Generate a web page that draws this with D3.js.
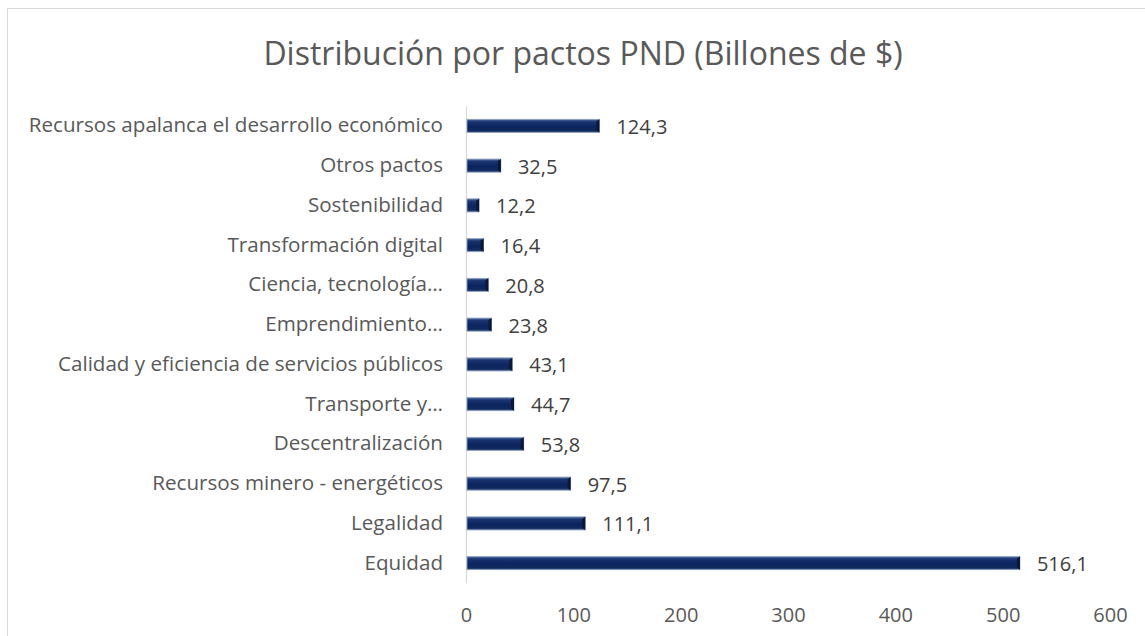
<!DOCTYPE html>
<html>
<head>
<meta charset="utf-8">
<script src="https://cdn.jsdelivr.net/npm/d3@7"></script>
<style>
  html, body { margin: 0; padding: 0; background: #ffffff; }
  svg { display: block; }
</style>
</head>
<body>
<svg id="chart" width="1145" height="636"></svg>
<script>
const categories = [
  "Recursos apalanca el desarrollo económico",
  "Otros pactos",
  "Sostenibilidad",
  "Transformación digital",
  "Ciencia, tecnología…",
  "Emprendimiento…",
  "Calidad y eficiencia de servicios públicos",
  "Transporte y…",
  "Descentralización",
  "Recursos minero - energéticos",
  "Legalidad",
  "Equidad"
];
const values = [124.3, 32.5, 12.2, 16.4, 20.8, 23.8, 43.1, 44.7, 53.8, 97.5, 111.1, 516.1];
const valueLabels = ["124,3", "32,5", "12,2", "16,4", "20,8", "23,8", "43,1", "44,7", "53,8", "97,5", "111,1", "516,1"];
const xTicks = [0, 100, 200, 300, 400, 500, 600];
const title = "Distribución por pactos PND (Billones de $)";

const svg = d3.select("#chart");
const font = "'Open Sans', sans-serif";
const textColor = "#595959";

// chart border
svg.append("rect")
  .attr("x", 7.5).attr("y", 8.5)
  .attr("width", 1145).attr("height", 640)
  .attr("fill", "#fff").attr("stroke", "#d9d9d9").attr("stroke-width", 1);

// gradient for bars
const defs = svg.append("defs");
const grad = defs.append("linearGradient").attr("id", "barGrad")
  .attr("x1", 0).attr("y1", 0).attr("x2", 0).attr("y2", 1);
grad.append("stop").attr("offset", "0%").attr("stop-color", "#5a74a8");
grad.append("stop").attr("offset", "18%").attr("stop-color", "#1a3570");
grad.append("stop").attr("offset", "55%").attr("stop-color", "#0c2460");
grad.append("stop").attr("offset", "85%").attr("stop-color", "#112a5c");
grad.append("stop").attr("offset", "100%").attr("stop-color", "#3e5686");

const plotLeft = 466, plotRight = 1110, plotTop = 106, plotBottom = 583;

const x = d3.scaleLinear().domain([0, 600]).range([plotLeft, plotRight]);
const y = d3.scaleBand().domain(categories).range([plotTop, plotBottom]).paddingInner(0.67).paddingOuter(0.335);

// title
svg.append("text")
  .attr("x", 583).attr("y", 65)
  .attr("text-anchor", "middle")
  .attr("font-family", font).attr("font-size", 32)
  .attr("fill", textColor)
  .text(title);

// x axis tick labels
const xAxis = d3.axisBottom(x).tickValues(xTicks).tickSize(0).tickPadding(0).tickFormat(d3.format("d"));
const gx = svg.append("g").attr("transform", `translate(0, ${plotBottom + 25})`).call(xAxis);
gx.select(".domain").remove();
gx.selectAll("text")
  .attr("font-family", font).attr("font-size", 20).attr("fill", textColor)
  .attr("dy", "0.71em");

// y axis
const yAxis = d3.axisLeft(y).tickSize(0).tickPadding(23);
const gy = svg.append("g").attr("transform", `translate(${plotLeft}, 0)`).call(yAxis);
gy.select(".domain").attr("stroke", "#d9d9d9").attr("stroke-width", 1.3);
gy.selectAll("text")
  .attr("font-family", font).attr("font-size", 20.6).attr("fill", textColor);

// bars
const bars = svg.append("g");
bars.selectAll("rect.bar")
  .data(values)
  .join("rect")
  .attr("class", "bar")
  .attr("x", x(0) + 1)
  .attr("y", (d, i) => y(categories[i]))
  .attr("width", d => x(d) - x(0) - 1)
  .attr("height", y.bandwidth())
  .attr("fill", "url(#barGrad)")
  .attr("stroke", "#8da0c4")
  .attr("stroke-width", 0.8);

// dark end caps
bars.selectAll("path.cap")
  .data(values)
  .join("path")
  .attr("class", "cap")
  .attr("d", (d, i) => {
    const x1 = x(d), y0 = y(categories[i]), h = y.bandwidth();
    return `M${x1 - 3},${y0 + 2} L${x1},${y0} L${x1},${y0 + h} L${x1 - 3},${y0 + h - 2} Z`;
  })
  .attr("fill", "#0a1836");

// value labels
svg.append("g").selectAll("text")
  .data(values)
  .join("text")
  .attr("x", d => x(d) + 17)
  .attr("y", (d, i) => y(categories[i]) + y.bandwidth() / 2)
  .attr("dy", "0.4em")
  .attr("font-family", font).attr("font-size", 20).attr("fill", "#404040")
  .text((d, i) => valueLabels[i]);
</script>
</body>
</html>
